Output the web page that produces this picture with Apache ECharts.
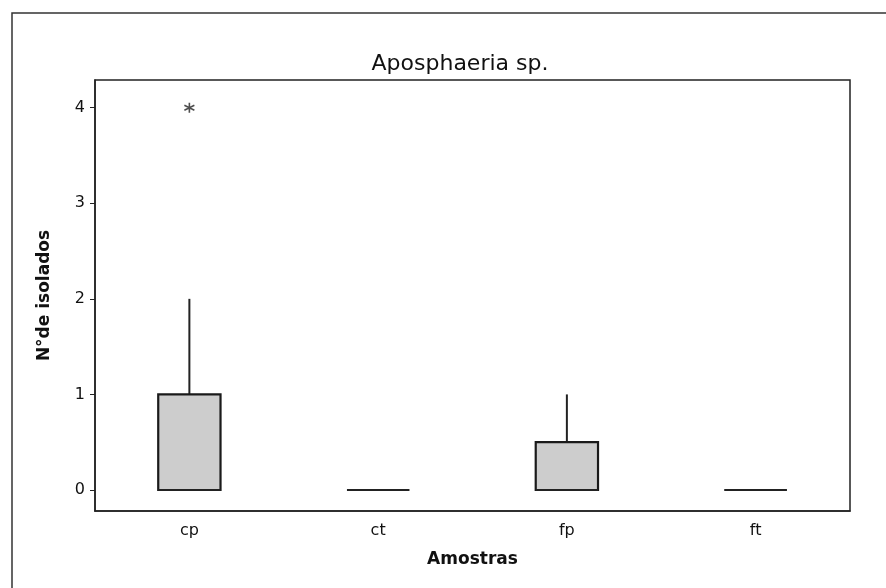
<!DOCTYPE html>
<html lang="pt">
<head>
<meta charset="UTF-8">
<title>Aposphaeria sp.</title>
<script src="https://cdn.jsdelivr.net/npm/echarts@6/dist/echarts.min.js"></script>
<style>
  html, body { margin: 0; padding: 0; background: #fff; }
  #chart { width: 886px; height: 588px; }
</style>
</head>
<body>
<div id="chart"></div>
<script>
// dados
var amostras = ['cp', 'ct', 'fp', 'ft'];
// [min, Q1, mediana, Q3, max]
var caixas = [
  [0, 0, 0, 1, 2],
  [0, 0, 0, 0, 0],
  [0, 0, 0, 0.5, 1],
  [0, 0, 0, 0, 0]
];
var outliers = [['cp', 4]];
var yTicks = [0, 1, 2, 3, 4];

var chart = echarts.init(document.getElementById('chart'), null, {renderer: 'canvas'});

var boxData = caixas.map(function (b, i) { return [i].concat(b); });

var option = {
  animation: false,
  backgroundColor: '#fff',
  title: {
    text: 'Aposphaeria sp.',
    left: 455,
    top: 48,
    textAlign: 'center',
    textStyle: { fontFamily: 'DejaVu Sans', fontSize: 22, fontWeight: 'normal', color: '#111' }
  },
  graphic: [{
    type: 'rect',
    shape: { x: 12, y: 13, width: 890, height: 590 },
    style: { fill: 'none', stroke: '#333', lineWidth: 1.5 },
    silent: true
  }],
  grid: { left: 95, right: 36, top: 80, bottom: 77, show: true, borderColor: '#222', borderWidth: 1.5 },
  xAxis: {
    type: 'category',
    data: amostras,
    name: 'Amostras',
    nameLocation: 'middle',
    nameGap: 40,
    nameTextStyle: { fontFamily: 'DejaVu Sans', fontSize: 17, fontWeight: 'bold', color: '#111' },
    axisLine: { onZero: false, lineStyle: { color: '#222', width: 1.5 } },
    axisTick: { alignWithLabel: true, length: 5, lineStyle: { color: '#222' } },
    axisLabel: { fontFamily: 'DejaVu Sans', fontSize: 16, color: '#111', margin: 12 },
    splitLine: { show: false }
  },
  yAxis: {
    type: 'value',
    min: -0.22,
    max: 4.29,
    name: 'N°de isolados',
    nameLocation: 'middle',
    nameGap: 42,
    nameTextStyle: { fontFamily: 'DejaVu Sans', fontSize: 17, fontWeight: 'bold', color: '#111' },
    axisLine: { show: true, lineStyle: { color: '#222', width: 1.5 } },
    axisTick: { show: true, length: 5, customValues: yTicks, lineStyle: { color: '#222' } },
    axisLabel: { fontFamily: 'DejaVu Sans', fontSize: 16, color: '#111', margin: 10, customValues: yTicks },
    splitLine: { show: false }
  },
  series: [
    {
      type: 'custom',
      data: boxData,
      encode: { x: 0, y: [1, 2, 3, 4, 5] },
      renderItem: function (params, api) {
        var idx = api.value(0);
        var pMin = api.coord([idx, api.value(1)]);
        var pQ1 = api.coord([idx, api.value(2)]);
        var pMed = api.coord([idx, api.value(3)]);
        var pQ3 = api.coord([idx, api.value(4)]);
        var pMax = api.coord([idx, api.value(5)]);
        var w = api.size([1, 0])[0] * 0.33;
        var stroke = { stroke: '#222', lineWidth: 2 };
        return {
          type: 'group',
          children: [
            { type: 'line', shape: { x1: pQ3[0], y1: pQ3[1], x2: pMax[0], y2: pMax[1] }, style: stroke },
            { type: 'line', shape: { x1: pQ1[0], y1: pQ1[1], x2: pMin[0], y2: pMin[1] }, style: stroke },
            {
              type: 'rect',
              shape: { x: pQ3[0] - w / 2, y: pQ3[1], width: w, height: pQ1[1] - pQ3[1] },
              style: { fill: '#cdcdcd', stroke: '#1a1a1a', lineWidth: 2.2 }
            },
            { type: 'line', shape: { x1: pMed[0] - w / 2, y1: pMed[1], x2: pMed[0] + w / 2, y2: pMed[1] }, style: stroke }
          ]
        };
      }
    },
    {
      type: 'scatter',
      data: outliers,
      symbol: 'path://M0,-5L0,5M-4.3,-2.5L4.3,2.5M-4.3,2.5L4.3,-2.5',
      symbolSize: 10,
      itemStyle: { color: 'none', borderColor: '#222', borderWidth: 1.6 }
    }
  ]
};
chart.setOption(option);
</script>
</body>
</html>
